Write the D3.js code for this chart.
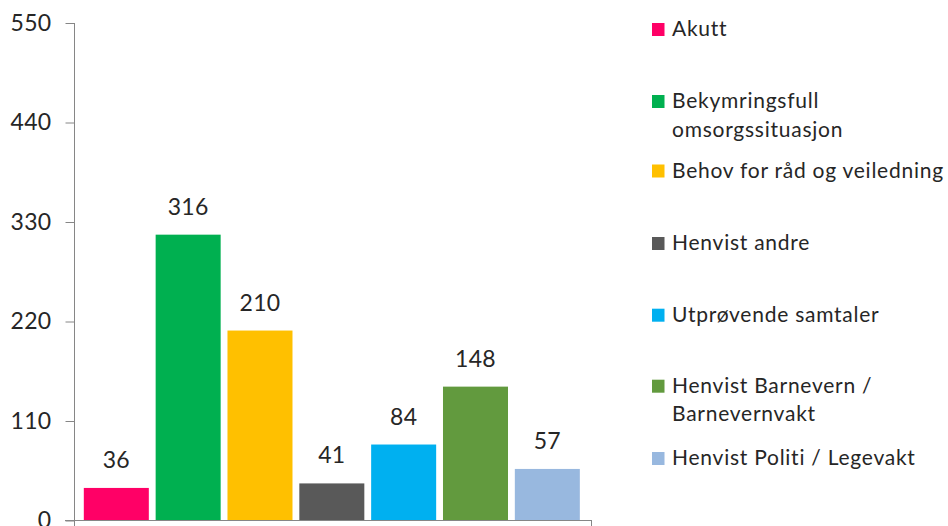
<!DOCTYPE html>
<html><head><meta charset="utf-8">
<script src="https://cdn.jsdelivr.net/npm/d3@7"></script>
<style>html,body{margin:0;padding:0;background:#fff}svg{display:block}text{font-family:Lato,"Open Sans",sans-serif;fill:#262626}</style>
</head><body>
<svg id="c" width="948" height="526"></svg>
<script>
const categories = ["Akutt","Bekymringsfull omsorgssituasjon","Behov for råd og veiledning","Henvist andre","Utprøvende samtaler","Henvist Barnevern / Barnevernvakt","Henvist Politi / Legevakt"];
const legendLines = [["Akutt"],["Bekymringsfull","omsorgssituasjon"],["Behov for råd og veiledning"],["Henvist andre"],["Utprøvende samtaler"],["Henvist Barnevern /","Barnevernvakt"],["Henvist Politi / Legevakt"]];
const values = [36,316,210,41,84,148,57];
const colors = ["#FF0066","#00B050","#FFC000","#595959","#00B0F0","#629A3E","#98B8DF"];
const yTicks = [0,110,220,330,440,550];

const svg = d3.select("#c");
const y = d3.scaleLinear().domain([0,550]).range([520.5,23]);
const x = d3.scaleBand().domain(categories).range([75,592]).paddingInner(0.095).paddingOuter(0.146).align(0.42);

// bars
svg.append("g").selectAll("rect").data(values).join("rect")
  .attr("x",(d,i)=>x(categories[i]))
  .attr("y",d=>y(d))
  .attr("width",x.bandwidth())
  .attr("height",d=>y(0)-y(d))
  .attr("fill",(d,i)=>colors[i]);

// data labels
svg.append("g").selectAll("text").data(values).join("text")
  .attr("x",(d,i)=>x(categories[i])+x.bandwidth()/2)
  .attr("y",d=>y(d)-20)
  .attr("text-anchor","middle")
  .style("font-size","23px")
  .style("letter-spacing","0.3px")
  .text(d=>d);

// y axis
const yAxis = d3.axisLeft(y).tickValues(yTicks).tickSize(9).tickPadding(14).tickSizeOuter(0);
const ga = svg.append("g").attr("transform","translate(74.5,0)").call(yAxis);
ga.select(".domain").attr("stroke","#868686").attr("d","M0,"+y(550)+"V529");
ga.selectAll(".tick line").attr("stroke","#868686");
ga.selectAll(".tick text").style("font-size","23px").style("letter-spacing","0.3px").attr("fill","#262626");

// x axis
svg.append("line").attr("x1",65).attr("x2",592).attr("y1",y(0)).attr("y2",y(0)).attr("stroke","#868686");
svg.append("line").attr("x1",591.5).attr("x2",591.5).attr("y1",y(0)).attr("y2",529).attr("stroke","#868686");

// legend
const firstBaselines = [36,108,177.5,250,321.7,392.7,465];
const lg = svg.append("g");
legendLines.forEach((lines,i)=>{
  const by = firstBaselines[i];
  lg.append("rect").attr("x",652).attr("y",by-13).attr("width",12.5).attr("height",13).attr("fill",colors[i]);
  lines.forEach((t,j)=>{
    lg.append("text").attr("x",672).attr("y",by + j*28.7).style("font-size","21px").style("letter-spacing","0.75px").text(t);
  });
});
</script>
</body></html>
